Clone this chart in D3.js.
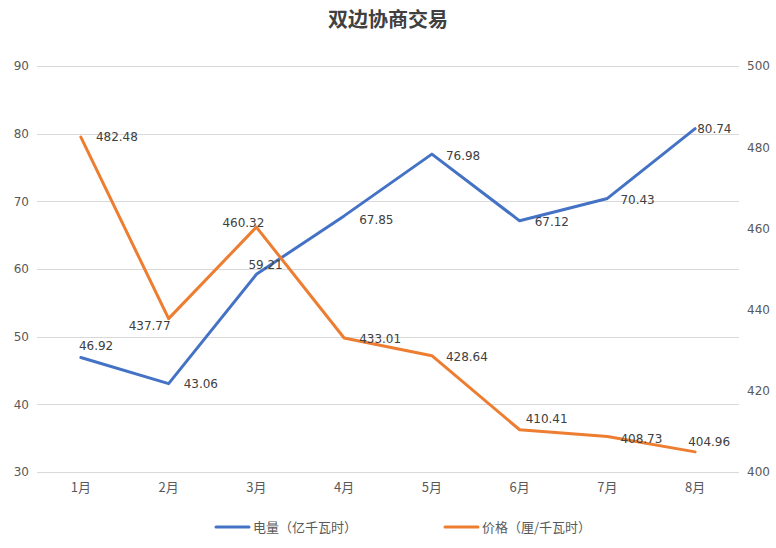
<!DOCTYPE html>
<html><head><meta charset="utf-8">
<script src="https://cdn.jsdelivr.net/npm/d3@7/dist/d3.min.js"></script>
<style>body{margin:0;background:#fff}svg{display:block}</style>
</head><body><svg id="c" width="776" height="548"></svg>
<script>
const categories = ["1月","2月","3月","4月","5月","6月","7月","8月"];
const energy = [46.92,43.06,59.21,67.85,76.98,67.12,70.43,80.74];
const price = [482.48,437.77,460.32,433.01,428.64,410.41,408.73,404.96];
const leftTicks = [30,40,50,60,70,80,90];
const rightTicks = [400,420,440,460,480,500];
const seriesNames = ["电量（亿千瓦时）","价格（厘/千瓦时）"];
const title = "双边协商交易";

// label offsets (style only)
const energyOff = [[-2,-12],[15,0],[-8,-10],[15,4],[14,2],[15,1],[13,1],[2,0]];
const priceOff = [[15,0],[-40,7],[-34,-4],[15,1],[14,1],[6,-11],[13,2],[-7,-10]];

const svg = d3.select("#c");
const x0 = 37, x1 = 739, yTop = 66, yBot = 472;
const x = d3.scaleBand().domain(categories).range([x0,x1]);
const yL = d3.scaleLinear().domain([30,90]).range([yBot,yTop]);
const yR = d3.scaleLinear().domain([400,500]).range([yBot,yTop]);
const font = "'DejaVu Sans', sans-serif";

svg.append("text").attr("x",388).attr("y",27).attr("text-anchor","middle")
  .attr("font-family","'Noto Sans CJK SC', sans-serif").attr("font-size",20).attr("font-weight",600)
  .attr("fill","#404040").text(title);

// grid
const g = svg.append("g");
g.selectAll("line.grid").data(leftTicks).join("line")
  .attr("x1",x0).attr("x2",x1).attr("y1",d=>Math.round(yL(d))+0.5).attr("y2",d=>Math.round(yL(d))+0.5)
  .attr("stroke","#d9d9d9").attr("stroke-width",1);

// left axis
const axL = d3.axisLeft(yL).tickValues(leftTicks).tickSize(0).tickPadding(8);
const gl = svg.append("g").attr("transform",`translate(${x0},0)`).call(axL);
gl.select(".domain").remove();
gl.selectAll("text").attr("font-family",font).attr("font-size",12).attr("fill","#595959");

const axR = d3.axisRight(yR).tickValues(rightTicks).tickSize(0).tickPadding(8);
const gr = svg.append("g").attr("transform",`translate(${x1},0)`).call(axR);
gr.select(".domain").remove();
gr.selectAll("text").attr("font-family",font).attr("font-size",12).attr("fill","#595959");

const axB = d3.axisBottom(x).tickSize(0).tickPadding(11);
const gb = svg.append("g").attr("transform",`translate(0,${yBot})`).call(axB);
gb.select(".domain").remove();
gb.selectAll("text").attr("font-family","'Noto Sans CJK SC', sans-serif").attr("font-size",13).attr("fill","#595959");

const cx = d => x(d) + x.bandwidth()/2;
const lineL = d3.line().x((d,i)=>cx(categories[i])).y(d=>yL(d));
const lineR = d3.line().x((d,i)=>cx(categories[i])).y(d=>yR(d));

svg.append("path").attr("d",lineL(energy)).attr("fill","none").attr("stroke","#4472C4")
  .attr("stroke-width",3).attr("stroke-linejoin","round").attr("stroke-linecap","round");
svg.append("path").attr("d",lineR(price)).attr("fill","none").attr("stroke","#ED7D31")
  .attr("stroke-width",3).attr("stroke-linejoin","round").attr("stroke-linecap","round");

svg.append("g").selectAll("text").data(energy).join("text")
  .attr("x",(d,i)=>cx(categories[i])+energyOff[i][0]).attr("y",(d,i)=>yL(d)+energyOff[i][1])
  .attr("dy","0.35em").attr("font-family",font).attr("font-size",12).attr("fill","#404040")
  .text(d=>d.toFixed(2));
svg.append("g").selectAll("text").data(price).join("text")
  .attr("x",(d,i)=>cx(categories[i])+priceOff[i][0]).attr("y",(d,i)=>yR(d)+priceOff[i][1])
  .attr("dy","0.35em").attr("font-family",font).attr("font-size",12).attr("fill","#404040")
  .text(d=>d.toFixed(2));

// legend
const leg = [{n:seriesNames[0],c:"#4472C4",x:216},{n:seriesNames[1],c:"#ED7D31",x:445}];
const lg = svg.append("g").selectAll("g").data(leg).join("g").attr("transform",d=>`translate(${d.x},527)`);
lg.append("line").attr("x1",0).attr("x2",33).attr("stroke",d=>d.c).attr("stroke-width",3).attr("stroke-linecap","round");
lg.append("text").attr("x",37).attr("dy","0.35em").attr("font-family","'Noto Sans CJK SC', sans-serif")
  .attr("font-size",13).attr("fill","#595959").text(d=>d.n);
</script></body></html>
